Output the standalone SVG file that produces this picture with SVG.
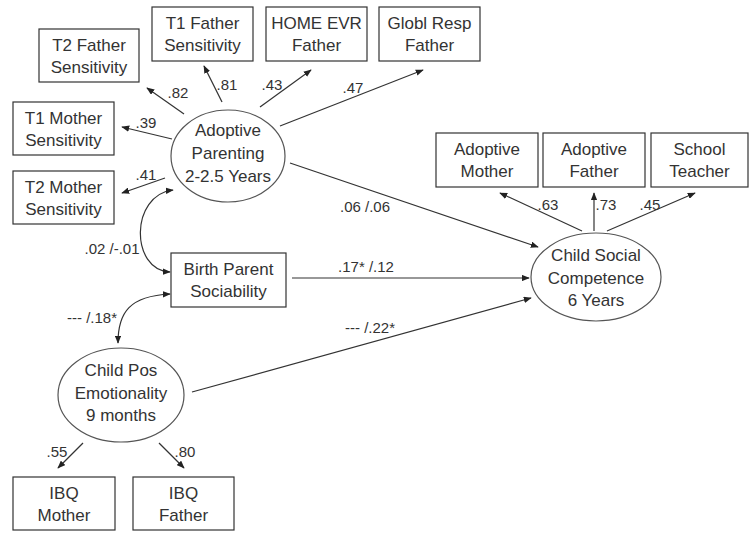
<svg xmlns="http://www.w3.org/2000/svg" width="749" height="534" viewBox="0 0 749 534">
<style>
.box{fill:#fff;stroke:#333;stroke-width:1.2}
.ell{fill:#fff;stroke:#555;stroke-width:1.2}
.t{font-family:"Liberation Sans",Arial,sans-serif;font-size:17px;fill:#333;text-anchor:middle}
.l{font-family:"Liberation Sans",Arial,sans-serif;font-size:15px;fill:#333;text-anchor:middle}
.c{fill:none;stroke:#333;stroke-width:1.2}
</style>
<defs>
<marker id="ah" viewBox="0 0 10 8" refX="9" refY="4" markerWidth="8" markerHeight="6.5" markerUnits="userSpaceOnUse" orient="auto-start-reverse">
<path d="M0,0 L10,4 L0,8 z" fill="#222"/>
</marker>
</defs>
<rect width="749" height="534" fill="#fff"/>
<g id="connectors">
<line class="c" x1="184" y1="114" x2="147" y2="88" marker-end="url(#ah)"/>
<line class="c" x1="222" y1="102" x2="204" y2="66" marker-end="url(#ah)"/>
<line class="c" x1="260" y1="107" x2="311" y2="70" marker-end="url(#ah)"/>
<line class="c" x1="280" y1="126" x2="423" y2="70" marker-end="url(#ah)"/>
<line class="c" x1="172" y1="139" x2="122" y2="127" marker-end="url(#ah)"/>
<line class="c" x1="165" y1="178" x2="122" y2="193" marker-end="url(#ah)"/>
<path class="c" d="M173,190 C130,195 130,270 170,272" marker-start="url(#ah)" marker-end="url(#ah)"/>
<path class="c" d="M170,294 C130,296 118,312 118,343" marker-start="url(#ah)" marker-end="url(#ah)"/>
<line class="c" x1="292" y1="278" x2="529" y2="278" marker-end="url(#ah)"/>
<line class="c" x1="192" y1="392" x2="531" y2="298" marker-end="url(#ah)"/>
<line class="c" x1="290" y1="163" x2="538" y2="247" marker-end="url(#ah)"/>
<line class="c" x1="582" y1="231" x2="500" y2="193" marker-end="url(#ah)"/>
<line class="c" x1="594" y1="231" x2="594" y2="193" marker-end="url(#ah)"/>
<line class="c" x1="607" y1="231" x2="695" y2="193" marker-end="url(#ah)"/>
<line class="c" x1="83" y1="443" x2="58" y2="468" marker-end="url(#ah)"/>
<line class="c" x1="159" y1="443" x2="184" y2="468" marker-end="url(#ah)"/>
<text class="l" x="178" y="98">.82</text>
<text class="l" x="227" y="90">.81</text>
<text class="l" x="272" y="90">.43</text>
<text class="l" x="353" y="93">.47</text>
<text class="l" x="146" y="128">.39</text>
<text class="l" x="146" y="180">.41</text>
<text class="l" x="112" y="254">.02 /-.01</text>
<text class="l" x="92" y="323">--- /.18*</text>
<text class="l" x="366" y="272">.17* /.12</text>
<text class="l" x="370" y="333">--- /.22*</text>
<text class="l" x="365" y="212">.06 /.06</text>
<text class="l" x="548" y="210">.63</text>
<text class="l" x="606" y="210">.73</text>
<text class="l" x="650" y="210">.45</text>
<text class="l" x="57" y="457">.55</text>
<text class="l" x="185" y="457">.80</text>
</g>
<g id="t2father"><rect class="box" x="39" y="29" width="100" height="53"/><text class="t" x="89" y="51">T2 Father</text><text class="t" x="89" y="73">Sensitivity</text></g>
<g id="t1father"><rect class="box" x="152" y="7" width="101" height="54"/><text class="t" x="202.5" y="29">T1 Father</text><text class="t" x="202.5" y="51">Sensitivity</text></g>
<g id="homeevr"><rect class="box" x="266" y="7" width="101" height="54"/><text class="t" x="316.5" y="29">HOME EVR</text><text class="t" x="316.5" y="51">Father</text></g>
<g id="globlresp"><rect class="box" x="379" y="7" width="101" height="54"/><text class="t" x="429.5" y="29">Globl Resp</text><text class="t" x="429.5" y="51">Father</text></g>
<g id="t1mother"><rect class="box" x="13" y="102" width="101" height="53"/><text class="t" x="63.5" y="124">T1 Mother</text><text class="t" x="63.5" y="146">Sensitivity</text></g>
<g id="t2mother"><rect class="box" x="13" y="171" width="101" height="53"/><text class="t" x="63.5" y="193">T2 Mother</text><text class="t" x="63.5" y="215">Sensitivity</text></g>
<g id="adoptiveparenting"><ellipse class="ell" cx="228" cy="156" rx="57" ry="46"/><text class="t" x="228" y="136">Adoptive</text><text class="t" x="228" y="159">Parenting</text><text class="t" x="228" y="182">2-2.5 Years</text></g>
<g id="adoptivemother"><rect class="box" x="436" y="133" width="102" height="54"/><text class="t" x="487" y="155">Adoptive</text><text class="t" x="487" y="177">Mother</text></g>
<g id="adoptivefather"><rect class="box" x="543" y="133" width="102" height="54"/><text class="t" x="594" y="155">Adoptive</text><text class="t" x="594" y="177">Father</text></g>
<g id="schoolteacher"><rect class="box" x="651" y="133" width="97" height="54"/><text class="t" x="699.5" y="155">School</text><text class="t" x="699.5" y="177">Teacher</text></g>
<g id="childsocial"><ellipse class="ell" cx="596" cy="277" rx="65" ry="44"/><text class="t" x="596" y="261">Child Social</text><text class="t" x="596" y="284">Competence</text><text class="t" x="596" y="306">6 Years</text></g>
<g id="birthparent"><rect class="box" x="171" y="253" width="115" height="54"/><text class="t" x="228.5" y="275">Birth Parent</text><text class="t" x="228.5" y="297">Sociability</text></g>
<g id="childpos"><ellipse class="ell" cx="121" cy="395" rx="63" ry="47"/><text class="t" x="121" y="376">Child Pos</text><text class="t" x="121" y="399">Emotionality</text><text class="t" x="121" y="421">9 months</text></g>
<g id="ibqmother"><rect class="box" x="13" y="477" width="102" height="53"/><text class="t" x="64" y="499">IBQ</text><text class="t" x="64" y="521">Mother</text></g>
<g id="ibqfather"><rect class="box" x="133" y="477" width="101" height="53"/><text class="t" x="183.5" y="499">IBQ</text><text class="t" x="183.5" y="521">Father</text></g>
</svg>
